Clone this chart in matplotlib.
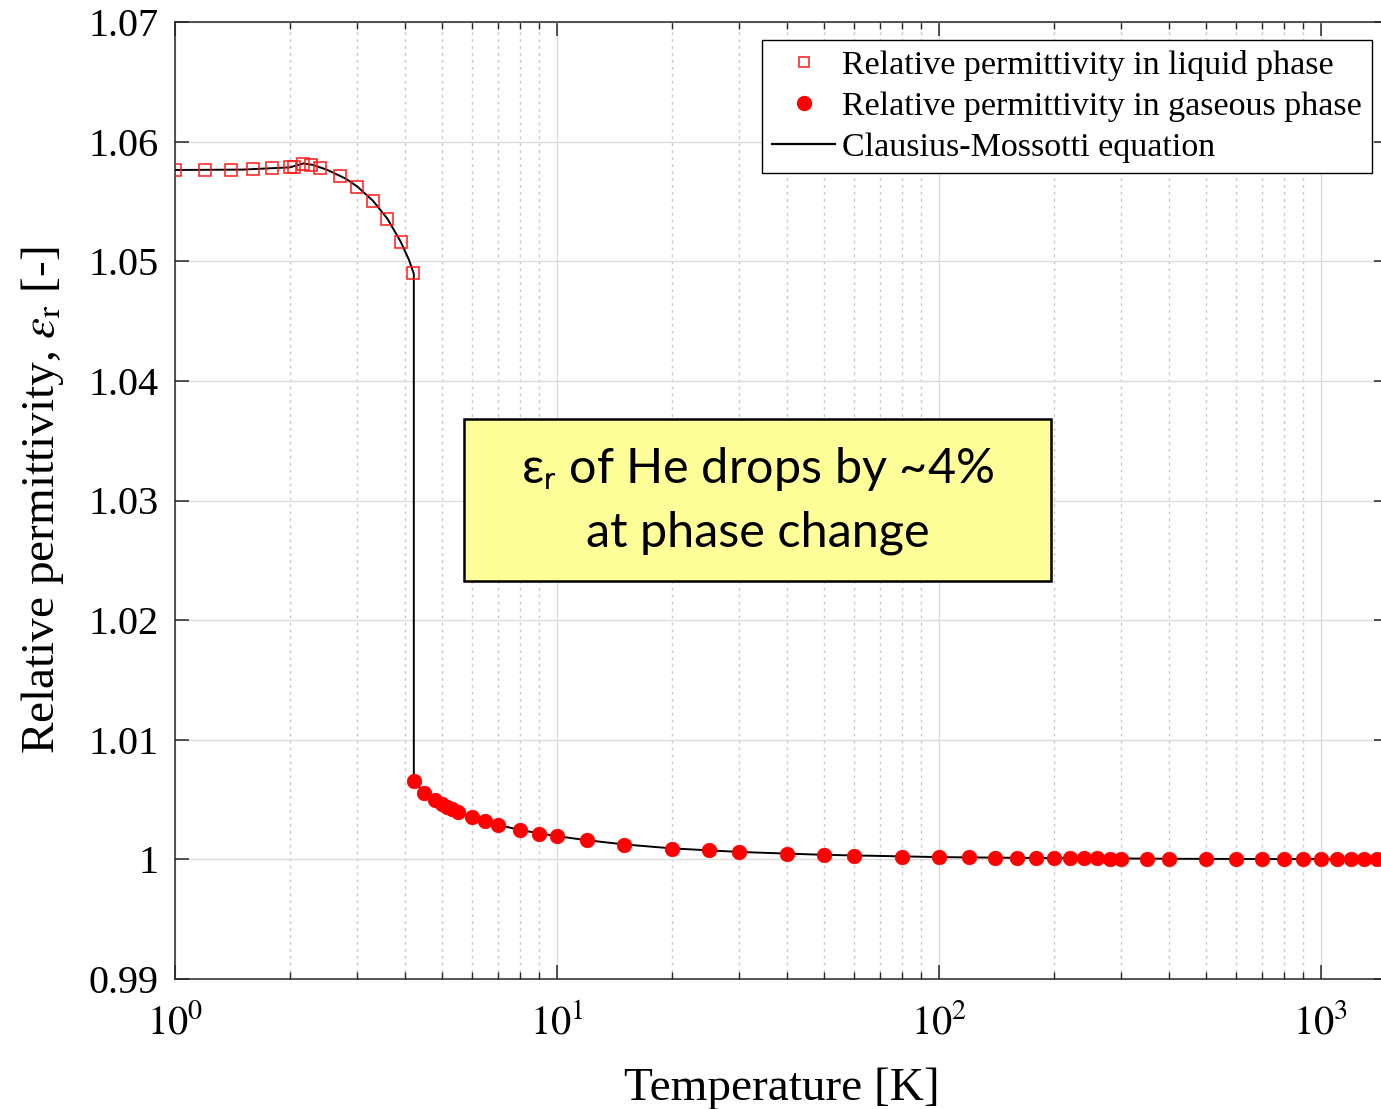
import matplotlib
matplotlib.use("Agg")
import matplotlib.pyplot as plt
from matplotlib.lines import Line2D
from matplotlib.patches import Rectangle
from matplotlib.ticker import FixedLocator, FixedFormatter, LogLocator, NullFormatter

plt.rcParams['font.family'] = ['Liberation Serif', 'DejaVu Serif']
plt.rcParams['mathtext.fontset'] = 'stix'

# Liquid-phase measurements (temperature in K, relative permittivity)
liquid_T = [1.0, 1.2, 1.4, 1.6, 1.8, 2.0, 2.05, 2.16, 2.27, 2.4, 2.7, 3.0, 3.3, 3.6, 3.9, 4.2]
liquid_eps = [1.05763, 1.05763, 1.05763, 1.05768, 1.05777, 1.05785, 1.05790, 1.05813,
              1.05807, 1.05782, 1.05715, 1.05623, 1.05503, 1.05353, 1.05163, 1.04899]

# Gaseous-phase measurements
gas_T = [4.22, 4.5, 4.8, 5.0, 5.15, 5.3, 5.5, 6, 6.5, 7, 8, 9, 10, 12, 15, 20, 25, 30, 40,
         50, 60, 80, 100, 120, 140, 160, 180, 200, 220, 240, 260, 280, 300, 350, 400,
         500, 600, 700, 800, 900, 1000, 1100, 1200, 1300, 1400]
gas_eps = [1.00654, 1.00559, 1.00500, 1.00467, 1.00438, 1.00417, 1.00397, 1.00355, 1.00319,
           1.00291, 1.00244, 1.00216, 1.00194, 1.00160, 1.00124, 1.00090, 1.00075, 1.00063,
           1.00047, 1.00038, 1.00031, 1.00024, 1.00019, 1.00016, 1.00014, 1.00012, 1.00011,
           1.00010, 1.00009, 1.00008, 1.000075, 1.00007, 1.000065, 1.000055, 1.00005,
           1.00004, 1.000032, 1.000028, 1.000024, 1.000022, 1.00002, 1.000018, 1.000016,
           1.000015, 1.000014]

# Clausius-Mossotti curve (liquid branch, jump at boiling point, gas branch)
cm_T = [1.0, 1.5, 2.0, 2.17, 2.3, 2.5, 2.8, 3.0, 3.3, 3.6, 3.9, 4.1, 4.22,
        4.22, 4.5, 5.0, 5.5, 6, 7, 8, 10, 12, 15, 20, 30, 50, 100, 200, 500, 1000, 1500]
cm_eps = [1.05763, 1.05766, 1.05785, 1.05818, 1.05805, 1.05765, 1.05690, 1.05625, 1.05505,
          1.05355, 1.05163, 1.05010, 1.04895,
          1.00654, 1.00555, 1.00465, 1.00397, 1.00352, 1.00290, 1.00245, 1.00194, 1.00160,
          1.00125, 1.00092, 1.00062, 1.00038, 1.00019, 1.00010, 1.00004, 1.00002, 1.000013]

y_ticks = [0.99, 1.00, 1.01, 1.02, 1.03, 1.04, 1.05, 1.06, 1.07]
y_tick_labels = ['0.99', '1', '1.01', '1.02', '1.03', '1.04', '1.05', '1.06', '1.07']
x_ticks = [1, 10, 100, 1000]
x_tick_labels = [r'$10^{0}$', r'$10^{1}$', r'$10^{2}$', r'$10^{3}$']

W, H = 1381, 1109
fig = plt.figure(figsize=(W / 100, H / 100), dpi=100)
ax = fig.add_axes([175 / W, 130 / H, 1213 / W, 957 / H])

ax.set_xscale('log')
ax.set_xlim(1, 1500)
ax.set_ylim(0.99, 1.07)

ax.grid(which='major', color='#dcdcdc', lw=1.0, ls='-', zorder=0)
ax.grid(which='minor', axis='x', color='#c8c8c8', lw=1.0, ls=(0, (2, 3)), zorder=0)

ax.plot(cm_T, cm_eps, color='black', lw=1.4, zorder=2)
ax.plot(liquid_T, liquid_eps, ls='none', marker='s', ms=8.5, mfc='none',
        mec='#ff1a1a', mew=1.1, zorder=3)
ax.plot(gas_T, gas_eps, ls='none', marker='o', ms=10.5, mfc='#ff0000',
        mec='#ff0000', mew=0.5, zorder=3)

ax.yaxis.set_major_locator(FixedLocator(y_ticks))
ax.yaxis.set_major_formatter(FixedFormatter(y_tick_labels))
ax.xaxis.set_major_locator(FixedLocator(x_ticks))
ax.xaxis.set_major_formatter(FixedFormatter(x_tick_labels))
ax.xaxis.set_minor_locator(LogLocator(base=10, subs=range(2, 10), numticks=20))
ax.xaxis.set_minor_formatter(NullFormatter())

ax.tick_params(which='both', direction='in', top=True, right=True, colors='#262626',
               labelcolor='black')
ax.tick_params(which='major', length=10, width=1.1, labelsize=29)
ax.tick_params(which='minor', length=5, width=1.0)
ax.tick_params(axis='x', which='major', pad=18)
ax.tick_params(axis='y', which='major', pad=12)
for s in ax.spines.values():
    s.set_color('#262626')
    s.set_linewidth(1.1)

ax.set_xlabel('Temperature [K]', fontsize=34, labelpad=18)
ax.set_ylabel(r'Relative permittivity, $\epsilon_{\mathrm{r}}$ [-]', fontsize=34, labelpad=16)

# Legend
handles = [
    Line2D([], [], ls='none', marker='s', ms=6.5, mfc='none', mec='#ff1a1a', mew=1.1),
    Line2D([], [], ls='none', marker='o', ms=10, mfc='#ff0000', mec='#ff0000'),
    Line2D([], [], color='black', lw=1.6),
]
labels = ['Relative permittivity in liquid phase',
          'Relative permittivity in gaseous phase',
          'Clausius-Mossotti equation']
leg = ax.legend(handles, labels, loc='upper right', bbox_to_anchor=(1372 / W, 1 - 40 / H),
                bbox_transform=fig.transFigure, fontsize=24.5, frameon=True, fancybox=False,
                edgecolor='black', framealpha=1, borderaxespad=0, borderpad=0.3,
                handlelength=1.85, handletextpad=0.2, labelspacing=0.3)
leg.get_frame().set_linewidth(1.0)

# Annotation box
ax.add_patch(Rectangle((0.2383, 0.4159), 0.4839, 0.1693, transform=ax.transAxes,
                       facecolor='#ffff99', edgecolor='black', lw=1.8, zorder=5))
ax.text(0.4802, 0.5005, 'ε$_{\\mathrm{r}}$ of He drops by ~4%\nat phase change',
        transform=ax.transAxes, ha='center', va='center', fontsize=35,
        family=['Lato', 'DejaVu Sans'], math_fontfamily='stixsans',
        linespacing=1.5, zorder=6)

fig.savefig('out.png', dpi=100)
